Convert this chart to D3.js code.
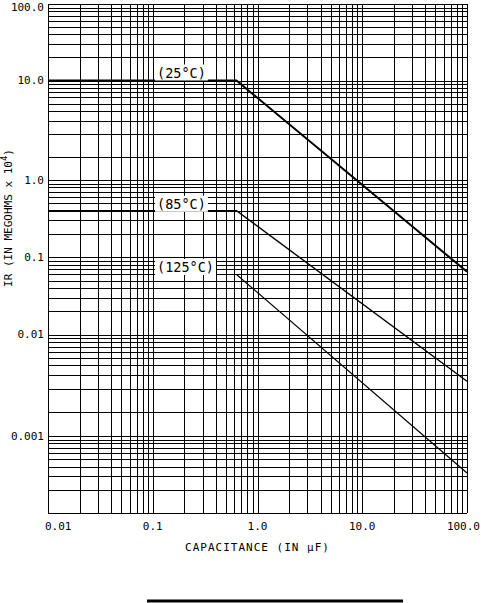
<!DOCTYPE html>
<html>
<head>
  <meta charset="utf-8">
  <title>IR vs Capacitance</title>
  <style>
    body { margin: 0; background: #fff; }
    text { font-family: "DejaVu Sans Mono", "Liberation Mono", monospace; fill: #000; }
  </style>
  <script src="https://d3js.org/d3.v7.min.js"></script>
</head>
<body>
<script>
  // tick labels
  var xTickValues = [0.01, 0.1, 1, 10, 100];
  var xTickLabels = ["0.01", "0.1", "1.0", "10.0", "100.0"];
  var yTickValues = [100, 10, 1, 0.1, 0.01, 0.001];
  var yTickLabels = ["100.0", "10.0", "1.0", "0.1", "0.01", "0.001"];

  // series (capacitance in uF, IR in megohms x 10^4)
  var seriesNames = ["(25°C)", "(85°C)", "(125°C)"];
  var cap25 = [0.01, 0.63, 100];
  var ir25 = [10, 10, 0.065];
  var cap85 = [0.01, 0.63, 100];
  var ir85 = [0.4, 0.4, 0.0025];
  var cap125 = [0.63, 100];
  var ir125 = [0.06, 0.00033];

  var width = 481, height = 603;
  var plot = {left: 48, right: 467, top: 4, bottom: 513};

  var svg = d3.select("body").append("svg")
    .attr("width", width)
    .attr("height", height);

  var xScale = d3.scaleLog().domain([0.01, 100]).range([plot.left, plot.right]);

  // the printed grid is split in three bands with small gaps between them
  var segA = d3.scaleLog().domain([1, 100]).range([157, plot.top]);
  var segB = d3.scaleLog().domain([0.001, 1]).range([412, 180]);
  var segC = d3.scaleLog().domain([0.0001, 0.001]).range([plot.bottom, 436]);
  function yPos(v) {
    if (v > 1) return segA(v);
    if (v > 0.001) return segB(v);
    return segC(v);
  }

  // vertical grid
  svg.append("g")
    .attr("transform", "translate(0," + plot.bottom + ")")
    .attr("shape-rendering", "crispEdges")
    .call(d3.axisBottom(xScale).tickSize(-(plot.bottom - plot.top)).tickFormat(""))
    .call(function (g) { g.select(".domain").remove(); });

  // horizontal grid, one axis per band
  [segA, segB, segC].forEach(function (s) {
    svg.append("g")
      .attr("transform", "translate(" + plot.left + ",0)")
      .attr("shape-rendering", "crispEdges")
      .call(d3.axisLeft(s).tickSize(-(plot.right - plot.left)).tickFormat(""))
      .call(function (g) { g.select(".domain").remove(); });
  });

  // curves
  var line = d3.line()
    .x(function (d) { return xScale(d[0]); })
    .y(function (d) { return yPos(d[1]); });

  var series = [
    {name: seriesNames[0], pts: d3.zip(cap25, ir25), w: 2},
    {name: seriesNames[1], pts: d3.zip(cap85, ir85), w: 1.4},
    {name: seriesNames[2], pts: d3.zip(cap125, ir125), w: 1.2}
  ];

  svg.append("g").selectAll("path")
    .data(series)
    .enter()
    .append("path")
    .attr("fill", "none")
    .attr("stroke", "#000")
    .attr("stroke-width", function (d) { return d.w; })
    .attr("d", function (d) { return line(d.pts); });

  // series labels with white boxes over the grid
  var labelAt = [[0.11, 10, -8], [0.11, 0.4, -7], [0.11, 0.075, 0]];
  series.forEach(function (s, i) {
    var g = svg.append("g");
    var t = g.append("text")
      .attr("x", xScale(labelAt[i][0]))
      .attr("y", yPos(labelAt[i][1]) + labelAt[i][2])
      .attr("dominant-baseline", "central")
      .style("font-size", "13.5px")
      .text(s.name);
    var bb = t.node().getBBox();
    g.insert("rect", "text")
      .attr("x", bb.x - 2)
      .attr("y", bb.y)
      .attr("width", bb.width + 4)
      .attr("height", bb.height)
      .attr("fill", "#fff");
  });

  // y tick labels
  svg.append("g").selectAll("text")
    .data(yTickValues)
    .enter()
    .append("text")
    .attr("x", 44)
    .attr("y", function (d) { return Math.max(yPos(d), 7); })
    .attr("text-anchor", "end")
    .attr("dominant-baseline", "central")
    .style("font-size", "11px")
    .text(function (d, i) { return yTickLabels[i]; });

  // x tick labels
  var nx = xTickValues.length;
  svg.append("g").selectAll("text")
    .data(xTickValues)
    .enter()
    .append("text")
    .attr("x", function (d, i) {
      if (i == 0) return xScale(d) - 3;
      if (i == nx - 1) return width - 1;
      return xScale(d);
    })
    .attr("y", 526)
    .attr("text-anchor", function (d, i) {
      return i == 0 ? "start" : (i == nx - 1 ? "end" : "middle");
    })
    .attr("dominant-baseline", "central")
    .style("font-size", "11px")
    .text(function (d, i) { return xTickLabels[i]; });

  // axis titles
  svg.append("text")
    .attr("x", (plot.left + plot.right) / 2)
    .attr("y", 547)
    .attr("text-anchor", "middle")
    .attr("dominant-baseline", "central")
    .style("font-size", "11px")
    .style("letter-spacing", "1px")
    .text("CAPACITANCE (IN µF)");

  var yt = svg.append("text")
    .attr("transform", "translate(12,218)rotate(-90)")
    .attr("text-anchor", "middle")
    .style("font-size", "11px");
  yt.append("tspan").text("IR (IN MEGOHMS x 10");
  yt.append("tspan").attr("dy", -5).style("font-size", "9px").text("4");
  yt.append("tspan").attr("dy", 5).text(")");

  // rule under the chart
  svg.append("line")
    .attr("x1", 147).attr("x2", 403)
    .attr("y1", 601).attr("y2", 601)
    .attr("stroke", "#000")
    .attr("stroke-width", 3);
</script>
</body>
</html>
